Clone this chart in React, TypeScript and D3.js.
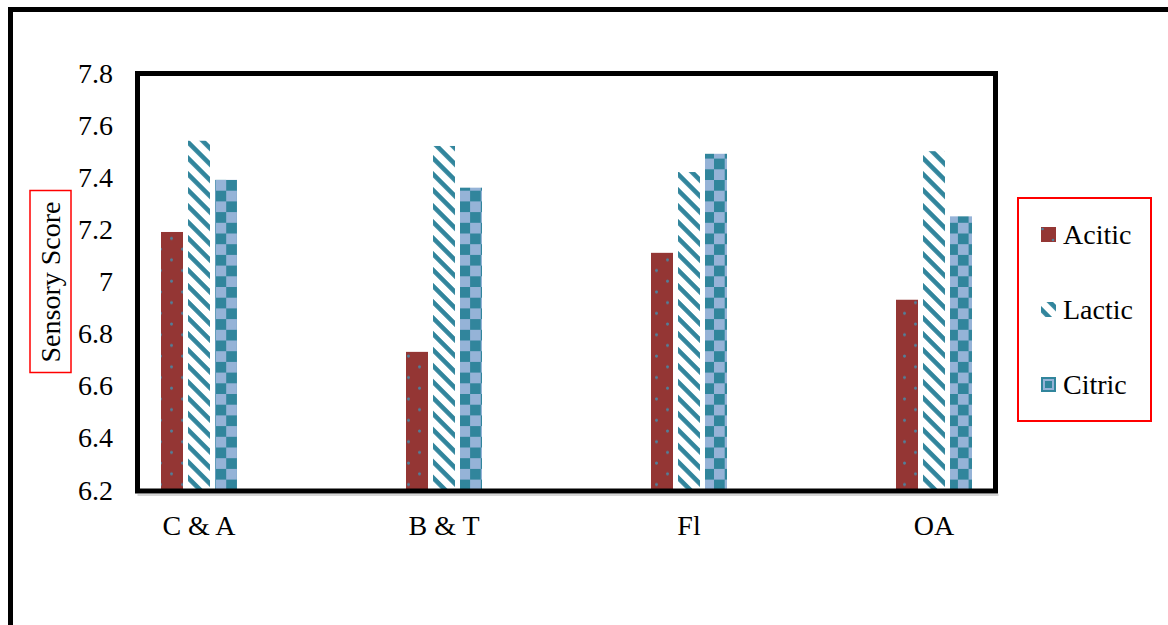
import React from "react";
import * as d3 from "d3";

const categories = ["C & A", "B & T", "Fl", "OA"];
const seriesNames = ["Acitic", "Lactic", "Citric"];
const acitic = [7.19, 6.73, 7.11, 6.93];
const lactic = [7.54, 7.52, 7.42, 7.5];
const citric = [7.39, 7.36, 7.49, 7.25];
const yTicks = [6.2, 6.4, 6.6, 6.8, 7, 7.2, 7.4, 7.6, 7.8];

const seriesValues = [acitic, lactic, citric];
const textStyle: React.CSSProperties = {
  fontFamily: '"Liberation Serif", "Times New Roman", Times, "DejaVu Serif", serif',
  fontSize: "28px",
};

export default function App() {
  const W = 1168;
  const H = 625;
  const plot = { left: 137.5, top: 73.5, right: 995.5, bottom: 491 };
  const y = d3.scaleLinear().domain([6.2, 7.8]).range([490, 73]);
  const x0 = d3.scalePoint<string>().domain(categories).range([199, 934]);
  const groupW = 76;
  const x1 = d3
    .scaleBand<string>()
    .domain(seriesNames)
    .range([0, groupW])
    .paddingInner(5 / 27)
    .paddingOuter(0);
  const bw = x1.bandwidth();
  const fillFor = (s: string, ci: number) =>
    s === "Acitic" ? `url(#dots${ci})` : s === "Lactic" ? "url(#stripes)" : `url(#check${ci})`;

  return (
    <svg
      width={W}
      height={H}
      style={{ position: "absolute", left: 0, top: 0, background: "#fff" }}
    >
      <defs>
        {categories.map((c, ci) => {
          const bx = (x0(c) as number) - groupW / 2 + (x1("Acitic") as number);
          return (
            <pattern
              key={"d" + ci}
              id={`dots${ci}`}
              patternUnits="userSpaceOnUse"
              x={bx}
              y={0}
              width={22}
              height={21.4}
            >
              <rect width={22} height={21.4} fill="#943634" />
              <circle cx={3.5} cy={3} r={1.5} fill="#50809a" />
              <circle cx={14.5} cy={13.7} r={1.5} fill="#50809a" />
            </pattern>
          );
        })}
        {categories.map((c, ci) => {
          const bx = (x0(c) as number) - groupW / 2 + (x1("Citric") as number);
          return (
            <pattern
              key={"c" + ci}
              id={`check${ci}`}
              patternUnits="userSpaceOnUse"
              x={bx}
              y={180}
              width={21.4}
              height={21.4}
            >
              <rect width={21.4} height={21.4} fill="#95b3d7" />
              <rect x={0} y={0} width={10.7} height={10.7} fill="#31859c" />
              <rect x={10.7} y={10.7} width={10.7} height={10.7} fill="#31859c" />
            </pattern>
          );
        })}
        <pattern
          id="stripes"
          patternUnits="userSpaceOnUse"
          width={11.3}
          height={11.3}
          patternTransform="rotate(45)"
        >
          <rect width={11.3} height={11.3} fill="#ffffff" />
          <rect x={0} y={0} width={11.3} height={4.6} fill="#31859c" />
        </pattern>
      </defs>

      {/* outer frame */}
      <rect x={10.5} y={9.5} width={1300} height={800} fill="none" stroke="#000" strokeWidth={5} />

      {/* bars */}
      {categories.map((c, ci) => (
        <g key={c} transform={`translate(${(x0(c) as number) - groupW / 2},0)`}>
          {seriesNames.map((s, si) => {
            const v = seriesValues[si][ci];
            return (
              <rect
                key={s}
                x={x1(s)}
                y={y(v)}
                width={bw}
                height={y(6.2) - y(v)}
                fill={fillFor(s, ci)}
              />
            );
          })}
        </g>
      ))}

      {/* plot frame */}
      <line x1={plot.left} x2={plot.right + 3} y1={495} y2={495} stroke="#c8c8c8" strokeWidth={1.5} />
      <rect
        x={plot.left}
        y={plot.top}
        width={plot.right - plot.left}
        height={plot.bottom - plot.top}
        fill="none"
        stroke="#000"
        strokeWidth={5}
      />

      {/* y ticks */}
      {yTicks.map((t) => (
        <text
          key={t}
          x={113}
          y={y(t)}
          dy="0.34em"
          textAnchor="end"
          style={textStyle}
          fill="#000"
        >
          {d3.format("~g")(t)}
        </text>
      ))}

      {/* x labels */}
      {categories.map((c) => (
        <text key={c} x={x0(c)} y={535} textAnchor="middle" style={textStyle} fill="#000">
          {c}
        </text>
      ))}

      {/* y axis title */}
      <rect x={30} y={190.5} width={41} height={182} fill="none" stroke="#ff0000" strokeWidth={1.5} />
      <text
        transform="translate(60,282) rotate(-90)"
        textAnchor="middle"
        style={textStyle}
        fill="#000"
      >
        Sensory Score
      </text>

      {/* legend */}
      <rect x={1018} y={198} width={133} height={223} fill="none" stroke="#ff0000" strokeWidth={2} />
      {seriesNames.map((s, i) => {
        const cy = 235 + i * 75;
        return (
          <g key={s}>
            {s === "Acitic" && (
              <g>
                <rect x={1041} y={cy - 8} width={15} height={15} fill="#943634" />
                <circle cx={1042.5} cy={cy - 6} r={1.3} fill="#50809a" />
                <circle cx={1053} cy={cy + 5} r={1.3} fill="#50809a" />
              </g>
            )}
            {s === "Lactic" && (
              <rect x={1041} y={cy - 8} width={15} height={15} fill="url(#stripes)" />
            )}
            {s === "Citric" && (
              <g>
                <rect x={1041} y={cy - 8} width={15} height={15} fill="#31859c" />
                <rect x={1043} y={cy - 6} width={11} height={11} fill="#95b3d7" />
                <rect x={1045} y={cy - 4} width={7} height={7} fill="#31859c" />
              </g>
            )}
            <text x={1063} y={cy + 9} style={textStyle} fill="#000">
              {s}
            </text>
          </g>
        );
      })}
    </svg>
  );
}
